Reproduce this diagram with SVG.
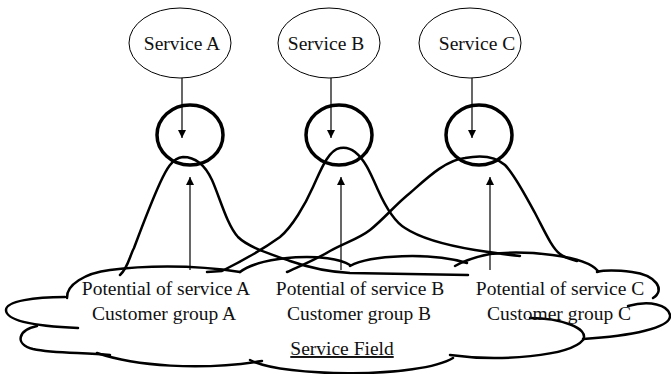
<svg xmlns="http://www.w3.org/2000/svg" width="671" height="374" viewBox="0 0 671 374">
<defs>
<marker id="ah" viewBox="0 0 10 10" refX="10" refY="5" markerWidth="8" markerHeight="8" markerUnits="userSpaceOnUse" orient="auto">
<path d="M0,0 L10,5 L0,10 Z" fill="#000"/>
</marker>
<style>
.svc{fill:#fff;stroke:#000;stroke-width:1}
.ring{fill:none;stroke:#000;stroke-width:3.5}
.hand{fill:none;stroke:#000;stroke-width:2.5;stroke-linecap:round;stroke-linejoin:round}
.arr{fill:none;stroke:#000;stroke-width:1.2}
.t{font-family:"Liberation Serif","Times New Roman",serif;font-size:19.5px;fill:#111;text-anchor:middle}
</style>
</defs>
<rect width="671" height="374" fill="#fff"/>
<g id="cloud">
<path class="hand" d="M67,298 C66,285 85,273 110,270 C140,266 190,264 240,272"/>
<path class="hand" d="M65,297 C35,297 6,301 6,310 C6,320 30,326 78,328"/>
<path class="hand" d="M37,326 C18,330 14,344 33,349 C55,354 85,352 110,355"/>
<path class="hand" d="M97,353 C135,366 200,371 262,361"/>
<path class="hand" d="M250,360 C285,378 420,378 453,358"/>
<path class="hand" d="M450,355 C500,362 570,356 583,340 C590,328 560,318 530,318"/>
<path class="hand" d="M583,339 C630,336 672,328 670,315 C668,305 650,300 628,306"/>
<path class="hand" d="M653,298 C666,290 656,275 632,272 C615,270 605,270 597,272"/>
<path class="hand" d="M598,271 C585,255 525,250 490,254 C475,257 462,262 455,266"/>
<path class="hand" d="M350,266 C370,255 430,252 467,263"/>
<path class="hand" d="M240,272 C262,255 330,252 350,265"/>
</g>
<g id="mountains">
<path class="hand" d="M120,275 C128,268 130,255 134,248 C140,232 150,205 160,183 C166,170 172,158 183,157 C195,157 205,165 212,180 C220,198 227,225 238,237 C248,247 270,254 290,261 C310,268 330,272 350,273 L468,275"/>
<path class="hand" d="M207,272 L222,271 C240,262 262,250 280,237 C292,227 305,205 313,187 C320,172 328,150 340,148 C345,147 350,148 355,152 C365,160 370,172 378,190 C387,210 395,222 405,228 C420,238 445,245 475,250 C495,253 510,255 520,256"/>
<path class="hand" d="M287,272 C300,266 315,260 330,251 C345,243 360,238 370,230 C385,218 395,205 410,193 C425,180 445,160 465,158 C480,155 495,156 505,165 C515,175 525,195 535,213 C545,232 552,248 560,254 C565,258 570,259 577,261"/>
</g>
<g id="serviceA"><ellipse class="svc" cx="180" cy="43" rx="51" ry="35"/><text class="t" x="182" y="50">Service A</text></g>
<g id="serviceB"><ellipse class="svc" cx="329" cy="43" rx="51" ry="35"/><text class="t" x="326" y="50">Service B</text></g>
<g id="serviceC"><ellipse class="svc" cx="470" cy="43" rx="51" ry="35"/><text class="t" x="477" y="50">Service C</text></g>
<g id="ringA"><ellipse class="ring" cx="190" cy="135" rx="33" ry="30"/></g>
<g id="ringB"><ellipse class="ring" cx="339" cy="135" rx="33" ry="30"/></g>
<g id="ringC"><ellipse class="ring" cx="479" cy="135" rx="33" ry="30"/></g>
<g id="connectors">
<line class="arr" x1="182" y1="78" x2="182" y2="138" marker-end="url(#ah)"/>
<line class="arr" x1="331" y1="78" x2="331" y2="138" marker-end="url(#ah)"/>
<line class="arr" x1="472" y1="78" x2="472" y2="138" marker-end="url(#ah)"/>
<line class="arr" x1="190" y1="270" x2="190" y2="177" marker-end="url(#ah)"/>
<line class="arr" x1="341" y1="270" x2="341" y2="177" marker-end="url(#ah)"/>
<line class="arr" x1="490" y1="270" x2="490" y2="177" marker-end="url(#ah)"/>
</g>
<g id="groupA"><text class="t" x="166" y="295">Potential of service A</text><text class="t" x="164" y="320">Customer group A</text></g>
<g id="groupB"><text class="t" x="360" y="295">Potential of service B</text><text class="t" x="359" y="320">Customer group B</text></g>
<g id="groupC"><text class="t" x="560" y="295">Potential of service C</text><text class="t" x="559" y="320">Customer group C</text></g>
<g id="field"><text class="t" x="342" y="355" text-decoration="underline">Service Field</text></g>
</svg>
